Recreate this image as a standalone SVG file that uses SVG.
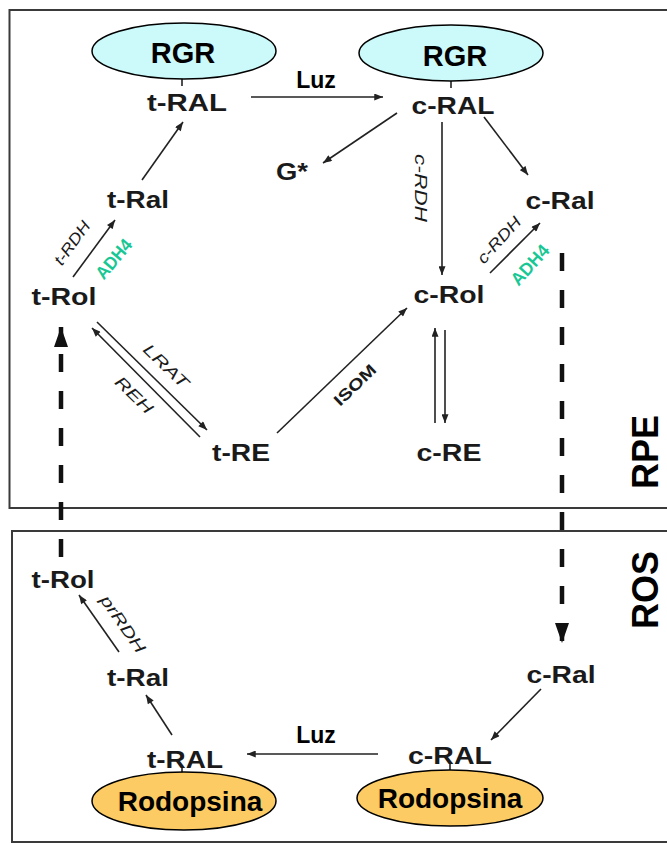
<svg xmlns="http://www.w3.org/2000/svg" width="667" height="843" viewBox="0 0 667 843">
<style>
.box{fill:none;stroke:#3a3a3a;stroke-width:2}
.node{font-family:"Liberation Sans",Arial,sans-serif;font-weight:bold;font-size:24px;fill:#1a1a1a;text-anchor:middle}
.big{font-family:"Liberation Sans",Arial,sans-serif;font-weight:bold;fill:#000;text-anchor:middle}
.enz{font-family:"Liberation Sans",Arial,sans-serif;font-style:italic;font-size:16px;fill:#1a1a1a;text-anchor:middle;dominant-baseline:central}
.isom{font-family:"Liberation Sans",Arial,sans-serif;font-weight:bold;font-size:16px;fill:#1a1a1a;text-anchor:middle;dominant-baseline:central}
.adh{font-family:"Liberation Sans",Arial,sans-serif;font-weight:bold;font-size:18px;fill:#19c795;text-anchor:middle;dominant-baseline:central}
.c{stroke:#222;stroke-width:1.6;fill:none;marker-end:url(#ah)}
.stub{stroke:#222;stroke-width:1.6}
.dash{stroke:#111;stroke-width:4.5;fill:none;stroke-dasharray:18 19;marker-end:url(#ahb)}
.rgr{fill:#ccf9f9;stroke:#000;stroke-width:1.5}
.rod{fill:#fccb63;stroke:#000;stroke-width:1.5}
</style>
<defs>
<marker id="ah" viewBox="0 0 10 8" refX="10" refY="4" markerWidth="10" markerHeight="7" markerUnits="userSpaceOnUse" orient="auto"><path d="M0,0 L10,4 L0,8 z" fill="#222"/></marker>
<marker id="ahb" viewBox="0 0 20 14" refX="20" refY="7" markerWidth="20" markerHeight="14" markerUnits="userSpaceOnUse" orient="auto"><path d="M0,0 L20,7 L0,14 z" fill="#111"/></marker>
</defs>
<g id="compartments">
<rect class="box" x="9.5" y="10" width="700" height="498"/>
<rect class="box" x="12" y="531" width="700" height="311"/>
<text class="big" font-size="36" transform="translate(658,452) rotate(-90)">RPE</text>
<text class="big" font-size="36" transform="translate(658,590) rotate(-90)">ROS</text>
</g>
<g id="connectors">
<path class="c" d="M251,97 L383,97"/>
<path class="c" d="M397,113 L323,163"/>
<path class="c" d="M442,122 L442,275"/>
<path class="c" d="M484,117 L528,175"/>
<path class="c" d="M142,180 L183,122"/>
<path class="c" d="M73,277 L115,220"/>
<path class="c" d="M490,273 L540,223"/>
<path class="c" d="M97,322 L207,430"/>
<path class="c" d="M200,437 L92,328"/>
<path class="c" d="M277,433 L407,308"/>
<path class="c" d="M435,423 L435,328"/>
<path class="c" d="M445,330 L445,423"/>
<path class="c" d="M378,754 L247,754"/>
<path class="c" d="M172,735 L146,695"/>
<path class="c" d="M119,652 L79,595"/>
<path class="c" d="M541,689 L491,740"/>
<path class="dash" d="M562,253 L562,643"/>
<path class="dash" d="M61,557 L61,327"/>
<line class="stub" x1="182" y1="79" x2="182" y2="86"/>
<line class="stub" x1="451" y1="81" x2="451" y2="88"/>
<line class="stub" x1="182" y1="767" x2="182" y2="773"/>
<line class="stub" x1="450" y1="763" x2="450" y2="770"/>
<text class="big" font-size="23" x="316" y="88">Luz</text>
<text class="big" font-size="23" x="316" y="743">Luz</text>
<text class="enz" transform="translate(72,243) rotate(-54)" textLength="50" lengthAdjust="spacingAndGlyphs">t-RDH</text>
<text class="adh" transform="translate(114,259) rotate(-50)" textLength="46" lengthAdjust="spacingAndGlyphs">ADH4</text>
<text class="enz" transform="translate(499,240) rotate(-48)" textLength="57" lengthAdjust="spacingAndGlyphs">c-RDH</text>
<text class="adh" transform="translate(530,265) rotate(-48)" textLength="48" lengthAdjust="spacingAndGlyphs">ADH4</text>
<text class="enz" transform="translate(420,188) rotate(90)" textLength="68" lengthAdjust="spacingAndGlyphs">c-RDH</text>
<text class="enz" transform="translate(166,366) rotate(44)" textLength="56" lengthAdjust="spacingAndGlyphs">LRAT</text>
<text class="enz" transform="translate(134,395) rotate(44)" textLength="46" lengthAdjust="spacingAndGlyphs">REH</text>
<text class="isom" transform="translate(355,385) rotate(-44)" textLength="52" lengthAdjust="spacingAndGlyphs">ISOM</text>
<text class="enz" transform="translate(123,624) rotate(55)" textLength="66" lengthAdjust="spacingAndGlyphs">prRDH</text>
</g>
<g id="rgr-left"><ellipse class="rgr" cx="184" cy="51" rx="92" ry="28"/><text class="big" font-size="29" x="183" y="63">RGR</text></g>
<g id="rgr-right"><ellipse class="rgr" cx="451" cy="53" rx="92" ry="28"/><text class="big" font-size="29" x="455" y="66">RGR</text></g>
<g id="t-RAL-top"><text class="node" x="187" y="111" textLength="80" lengthAdjust="spacingAndGlyphs">t-RAL</text></g>
<g id="c-RAL-top"><text class="node" x="453" y="114" textLength="83" lengthAdjust="spacingAndGlyphs">c-RAL</text></g>
<g id="G-star"><text class="node" x="292" y="180" textLength="32" lengthAdjust="spacingAndGlyphs">G*</text></g>
<g id="t-Ral-top"><text class="node" x="138" y="208" textLength="62" lengthAdjust="spacingAndGlyphs">t-Ral</text></g>
<g id="c-Ral-top"><text class="node" x="560" y="209" textLength="69" lengthAdjust="spacingAndGlyphs">c-Ral</text></g>
<g id="t-Rol-top"><text class="node" x="64" y="305" textLength="65" lengthAdjust="spacingAndGlyphs">t-Rol</text></g>
<g id="c-Rol"><text class="node" x="449" y="303" textLength="71" lengthAdjust="spacingAndGlyphs">c-Rol</text></g>
<g id="t-RE"><text class="node" x="241" y="461" textLength="58" lengthAdjust="spacingAndGlyphs">t-RE</text></g>
<g id="c-RE"><text class="node" x="449" y="461" textLength="65" lengthAdjust="spacingAndGlyphs">c-RE</text></g>
<g id="t-Rol-bottom"><text class="node" x="63" y="588" textLength="63" lengthAdjust="spacingAndGlyphs">t-Rol</text></g>
<g id="t-Ral-bottom"><text class="node" x="138" y="686" textLength="62" lengthAdjust="spacingAndGlyphs">t-Ral</text></g>
<g id="c-Ral-bottom"><text class="node" x="561" y="683" textLength="69" lengthAdjust="spacingAndGlyphs">c-Ral</text></g>
<g id="t-RAL-bottom"><text class="node" x="185" y="768" textLength="76" lengthAdjust="spacingAndGlyphs">t-RAL</text></g>
<g id="c-RAL-bottom"><text class="node" x="450" y="764" textLength="84" lengthAdjust="spacingAndGlyphs">c-RAL</text></g>
<g id="rod-left"><ellipse class="rod" cx="184" cy="801" rx="92" ry="29"/><text class="big" font-size="28" x="190" y="811">Rodopsina</text></g>
<g id="rod-right"><ellipse class="rod" cx="450" cy="798" rx="93" ry="28"/><text class="big" font-size="28" x="450" y="808">Rodopsina</text></g>
</svg>
